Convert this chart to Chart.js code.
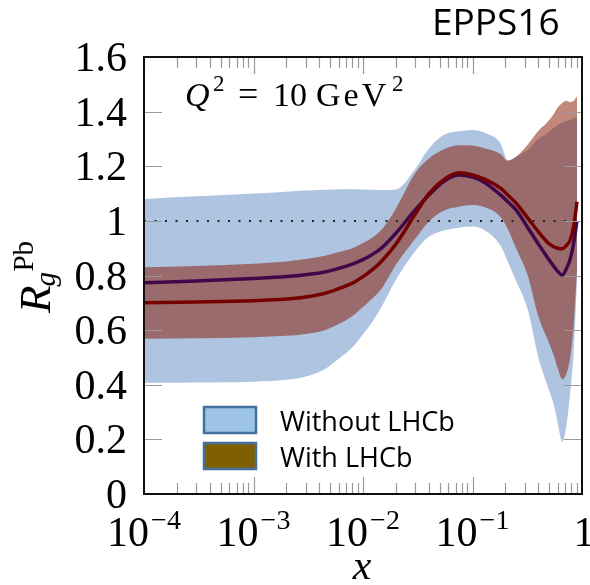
<!DOCTYPE html>
<html>
<head>
    <meta charset="utf-8">
    <title>EPPS16 gluon ratio</title>
    <script src="https://cdn.jsdelivr.net/npm/chart.js@4.4.1/dist/chart.umd.min.js"></script>
    <style>
        body { margin: 0; background: #fff; }
        #wrap { width: 590px; height: 585px; }
    </style>
</head>
<body>
    <div id="wrap"><canvas id="chart" width="590" height="585"></canvas></div>
    <script>
        // x grid of the curves
        const xs = [1e-4, 3e-4, 1e-3, 2e-3, 3e-3, 4.5e-3, 6e-3, 8e-3, 0.01, 0.0125, 0.015, 0.02, 0.03, 0.04, 0.055, 0.075, 0.1, 0.13, 0.18, 0.21, 0.25, 0.32, 0.4, 0.48, 0.55, 0.6, 0.66, 0.72, 0.78, 0.84, 0.9];
        // without LHCb: band and central value
        const noUp = [1.08, 1.09, 1.10, 1.107, 1.111, 1.114, 1.116, 1.116, 1.115, 1.114, 1.113, 1.115, 1.19, 1.265, 1.315, 1.328, 1.333, 1.322, 1.285, 1.222, 1.235, 1.26, 1.30, 1.32, 1.34, 1.35, 1.36, 1.365, 1.37, 1.375, 1.38];
        const noLo = [0.407, 0.408, 0.411, 0.418, 0.43, 0.458, 0.495, 0.537, 0.585, 0.637, 0.69, 0.784, 0.89, 0.942, 0.965, 0.975, 0.979, 0.965, 0.91, 0.85, 0.78, 0.675, 0.50, 0.40, 0.33, 0.26, 0.19, 0.25, 0.37, 0.52, 0.78];
        const noC = [0.773, 0.78, 0.789, 0.796, 0.803, 0.813, 0.826, 0.842, 0.858, 0.88, 0.903, 0.955, 1.04, 1.095, 1.145, 1.168, 1.16, 1.14, 1.095, 1.07, 1.04, 0.975, 0.915, 0.868, 0.835, 0.815, 0.802, 0.825, 0.86, 0.92, 1.0];
        // with LHCb
        const withUp = [0.83, 0.835, 0.843, 0.851, 0.86, 0.872, 0.886, 0.90, 0.919, 0.942, 0.97, 1.045, 1.175, 1.228, 1.262, 1.277, 1.276, 1.265, 1.245, 1.22, 1.235, 1.28, 1.33, 1.36, 1.39, 1.415, 1.432, 1.44, 1.435, 1.44, 1.455];
        const withLo = [0.568, 0.57, 0.574, 0.579, 0.586, 0.60, 0.622, 0.652, 0.685, 0.72, 0.755, 0.84, 0.935, 0.998, 1.038, 1.052, 1.058, 1.05, 1.015, 0.97, 0.90, 0.80, 0.65, 0.57, 0.51, 0.46, 0.42, 0.44, 0.50, 0.62, 0.82];
        const withC = [0.70, 0.703, 0.708, 0.714, 0.721, 0.735, 0.752, 0.772, 0.796, 0.825, 0.855, 0.915, 1.025, 1.10, 1.152, 1.176, 1.168, 1.152, 1.12, 1.095, 1.065, 1.01, 0.96, 0.923, 0.905, 0.90, 0.898, 0.91, 0.93, 0.98, 1.07];

        const yTicks = [0, 0.2, 0.4, 0.6, 0.8, 1, 1.2, 1.4, 1.6];
        const yTickLabels = ['0', '0.2', '0.4', '0.6', '0.8', '1', '1.2', '1.4', '1.6'];
        const xMajor = [1e-4, 1e-3, 1e-2, 1e-1, 1];
        const xExp = ['−4', '−3', '−2', '−1', ''];
        const legendLabels = ['Without LHCb', 'With LHCb'];

        const pts = (ys) => xs.map((x, i) => ({ x: x, y: ys[i] }));

        const serif = '"Liberation Serif", "DejaVu Serif", serif';
        const sans = '"Open Sans", "Liberation Sans", sans-serif';

        // frame, inward ticks, tick labels, titles, legend
        const decor = {
            id: 'decor',
            afterDraw(chart) {
                const ctx = chart.ctx, a = chart.chartArea;
                const sx = chart.scales.x, sy = chart.scales.y;
                ctx.save();

                // ticks
                ctx.strokeStyle = '#9a9a9a';
                ctx.lineWidth = 1.2;
                yTicks.forEach(v => {
                    const y = Math.round(sy.getPixelForValue(v)) + 0.5;
                    ctx.beginPath();
                    ctx.moveTo(a.left, y); ctx.lineTo(a.left + 18, y);
                    ctx.moveTo(a.right, y); ctx.lineTo(a.right - 18, y);
                    ctx.stroke();
                });
                for (let d = -4; d < 0; d++) {
                    for (let m = 1; m < 10; m++) {
                        const v = m * Math.pow(10, d);
                        const x = Math.round(sx.getPixelForValue(v)) + 0.5;
                        const len = m === 1 ? 17 : 11;
                        ctx.beginPath();
                        ctx.moveTo(x, a.bottom); ctx.lineTo(x, a.bottom - len);
                        ctx.moveTo(x, a.top); ctx.lineTo(x, a.top + len);
                        ctx.stroke();
                    }
                }

                // frame
                ctx.strokeStyle = '#111';
                ctx.lineWidth = 2;
                ctx.strokeRect(a.left, a.top, a.right - a.left, a.bottom - a.top);

                ctx.fillStyle = '#000';
                // y tick labels
                ctx.font = '42px ' + serif;
                ctx.textAlign = 'right';
                ctx.textBaseline = 'alphabetic';
                yTicks.forEach((v, i) => {
                    ctx.fillText(yTickLabels[i], 127, sy.getPixelForValue(v) + 14);
                });

                // x tick labels with exponents
                ctx.textAlign = 'left';
                xMajor.forEach((v, i) => {
                    const cx = sx.getPixelForValue(v);
                    const base = xExp[i] ? '10' : '1';
                    ctx.font = '42px ' + serif;
                    const w1 = ctx.measureText(base).width;
                    ctx.font = '28px ' + serif;
                    const w2 = xExp[i] ? ctx.measureText(xExp[i]).width + 2 : 0;
                    const x0 = cx - (w1 + w2) / 2 + (xExp[i] ? 0 : 2);
                    ctx.font = '42px ' + serif;
                    ctx.fillText(base, x0, 546);
                    if (xExp[i]) {
                        ctx.font = '28px ' + serif;
                        ctx.fillText(xExp[i], x0 + w1 + 2, 529);
                    }
                });

                // x title
                ctx.font = 'italic 42px ' + serif;
                ctx.textAlign = 'center';
                ctx.fillText('x', 362, 579);

                // y title, rotated
                ctx.save();
                ctx.translate(50, 313);
                ctx.rotate(-Math.PI / 2);
                ctx.textAlign = 'left';
                ctx.font = 'italic 45px ' + serif;
                ctx.fillText('R', 0, 0);
                const wr = ctx.measureText('R').width;
                ctx.font = 'italic 29px ' + serif;
                ctx.fillText('g', wr - 1, 5);
                ctx.font = '29px ' + serif;
                ctx.fillText('Pb', wr + 14, -17);
                ctx.restore();

                // Q^2 label
                ctx.textAlign = 'left';
                ctx.font = 'italic 34px ' + serif;
                ctx.fillText('Q', 185, 106);
                ctx.font = '23px ' + serif;
                ctx.fillText('2', 213, 91);
                ctx.font = '36px ' + serif;
                ctx.fillText('=', 238, 106);
                ctx.font = '34px ' + serif;
                ctx.fillText('10', 273, 106);
                ctx.letterSpacing = '3px';
                ctx.fillText('GeV', 316, 106);
                ctx.letterSpacing = '0px';
                ctx.font = '23px ' + serif;
                ctx.fillText('2', 392, 91);

                // title
                ctx.font = '37px ' + sans;
                ctx.fillText('EPPS16', 432, 35);

                // legend
                const boxes = [{ y: 407, fill: '#9dc3e6' }, { y: 443, fill: '#7f6000' }];
                boxes.forEach((b, i) => {
                    ctx.fillStyle = b.fill;
                    ctx.fillRect(204, b.y, 52, 26);
                    ctx.strokeStyle = '#41719c';
                    ctx.lineWidth = 2.5;
                    ctx.strokeRect(204, b.y, 52, 26);
                    ctx.fillStyle = '#000';
                    ctx.font = '27px ' + sans;
                    ctx.fillText(legendLabels[i], 280, b.y + 24);
                });

                ctx.restore();
            }
        };

        const blue = '#aec4e1';
        const redBand = 'rgba(137, 25, 0, 0.52)';

        new Chart(document.getElementById('chart'), {
            type: 'line',
            data: {
                datasets: [
                    { data: pts(noUp), borderWidth: 0, backgroundColor: blue, fill: '+1', order: 50 },
                    { data: pts(noLo), borderWidth: 0, fill: false, order: 50 },
                    { data: pts(withUp), borderWidth: 0, backgroundColor: redBand, fill: '+1', order: 40 },
                    { data: pts(withLo), borderWidth: 0, fill: false, order: 40 },
                    { data: [{ x: 1e-4, y: 1 }, { x: 1, y: 1 }], borderColor: '#222', borderWidth: 2, borderDash: [2, 8.5], fill: false, order: 30 },
                    { data: pts(noC), borderColor: '#40084a', borderWidth: 3.5, fill: false, order: 20 },
                    { data: pts(withC), borderColor: '#750000', borderWidth: 3.5, fill: false, order: 10 }
                ]
            },
            options: {
                responsive: false,
                animation: false,
                events: [],
                layout: { padding: { left: 0, top: 57, right: 8, bottom: 0 } },
                elements: {
                    point: { radius: 0 },
                    line: { cubicInterpolationMode: 'monotone' }
                },
                plugins: { legend: { display: false }, tooltip: { enabled: false } },
                scales: {
                    x: {
                        type: 'logarithmic', min: 1e-4, max: 1,
                        ticks: { display: false }, grid: { display: false }, border: { display: false },
                        afterFit: (s) => { s.height = 91; }
                    },
                    y: {
                        min: 0, max: 1.6,
                        ticks: { display: false }, grid: { display: false }, border: { display: false },
                        afterFit: (s) => { s.width = 144; }
                    }
                }
            },
            plugins: [decor]
        });
    </script>
</body>
</html>
